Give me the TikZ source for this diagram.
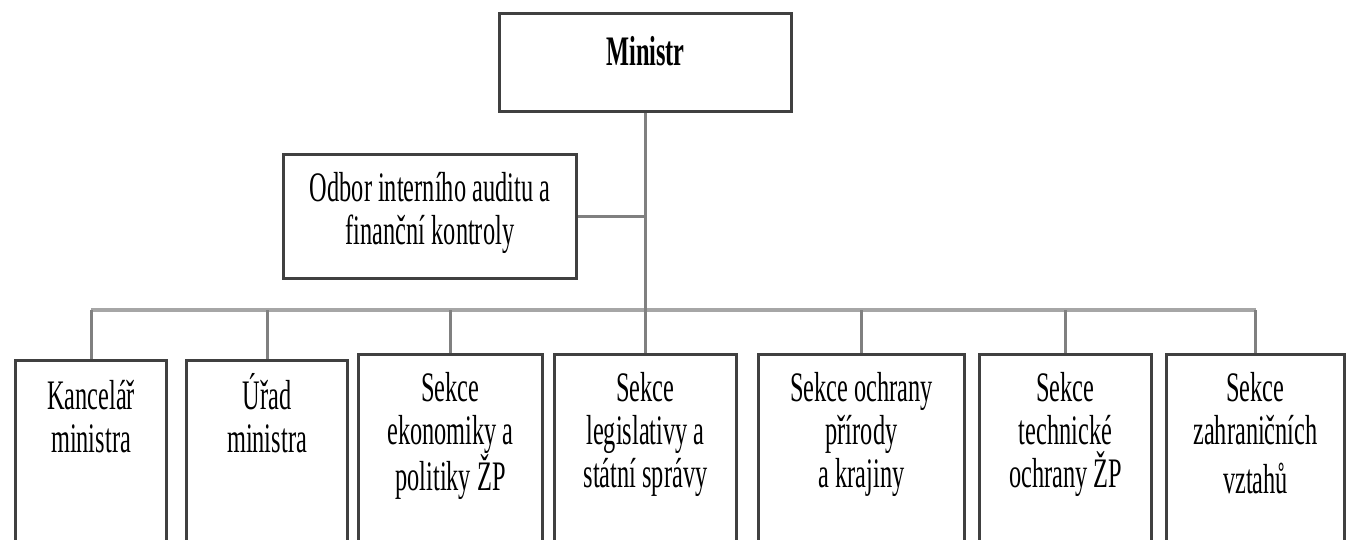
\documentclass[tikz,border=0pt]{standalone}
\usepackage{fontspec}
\setmainfont{Liberation Serif}[FakeStretch=0.58]
\newcommand{\orgtxt}[4]{\parbox[c][#1][t]{#2}{\centering\rule{0pt}{#3}#4}}
\begin{document}
\begin{tikzpicture}[x=1pt,y=-1pt,
  orgbox/.style={draw=black!75, line width=3pt, inner sep=0pt, anchor=north west, fill=white,
    font=\fontsize{42}{43}\selectfont},
  conn/.style={draw=black!50, line width=3pt},
  busline/.style={draw=black!35, line width=4.5pt}]
\useasboundingbox (0,0) rectangle (1346,540);
\clip (0,0) rectangle (1346,540);
% top boxes
\node[orgbox] (min) at (498,12) {\orgtxt{98pt}{292pt}{52pt}{\textbf{Ministr}}};
\node[orgbox] (odb) at (282,153) {\orgtxt{124pt}{293pt}{47pt}{Odbor interního auditu a\\finanční kontroly}};
% bottom boxes
\node[orgbox] (k) at (14,359) {\orgtxt{190pt}{151pt}{49pt}{Kancelář\\ministra}};
\node[orgbox] (u) at (185,359) {\orgtxt{190pt}{161pt}{49pt}{Úřad\\ministra}};
\node[orgbox] (e) at (357,353) {\orgtxt{196pt}{184pt}{47pt}{Sekce\\ekonomiky a\\politiky ŽP}};
\node[orgbox] (l) at (553,353) {\orgtxt{196pt}{182pt}{47pt}{Sekce\\legislativy a\\státní správy}};
\node[orgbox] (o) at (757,353) {\orgtxt{196pt}{206pt}{47pt}{Sekce ochrany\\přírody\\a krajiny}};
\node[orgbox] (t) at (978,353) {\orgtxt{196pt}{172pt}{47pt}{Sekce\\technické\\ochrany ŽP}};
\node[orgbox] (z) at (1165,353) {\orgtxt{196pt}{178pt}{47pt}{Sekce\\zahraničních\\[6pt]vztahů}};
% connectors
\coordinate (bus) at (644,310);
\draw[busline] (k.north |- bus) -- (z.north |- bus);
\draw[conn] (min.south) -- (min.south |- l.north);
\draw[conn] (odb.east) -- (odb.east -| min.south);
\foreach \b in {k,u,e,o,t,z} \draw[conn] (\b.north |- bus) -- (\b.north);
\end{tikzpicture}
\end{document}
